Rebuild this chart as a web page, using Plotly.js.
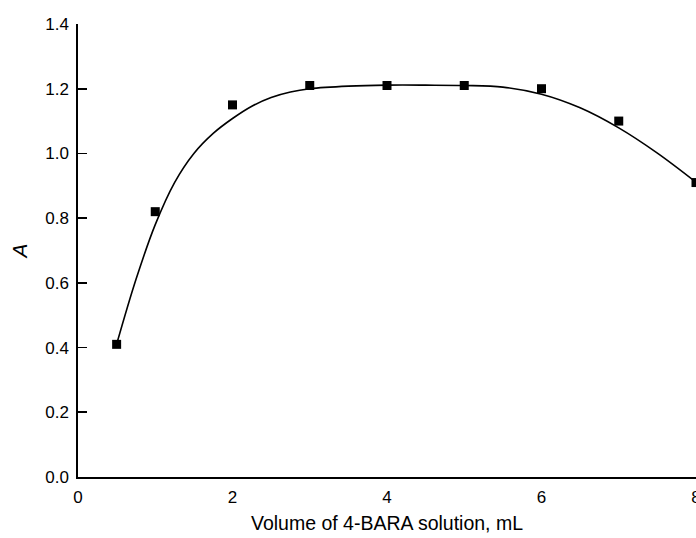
<!DOCTYPE html>
<html>
<head>
<meta charset="utf-8">
<script src="https://cdn.plot.ly/plotly-3.0.1.min.js"></script>
<style>html,body{margin:0;padding:0;background:#fff;}#chart{width:696px;height:538px;}</style>
</head>
<body>
<div id="chart"></div>
<script>
// Measured points
const volume = [0.5, 1, 2, 3, 4, 5, 6, 7, 8];
const absorbance = [0.41, 0.82, 1.15, 1.21, 1.21, 1.21, 1.20, 1.10, 0.91];
// Fitted curve
const curveX = [0.5, 0.75, 1.0, 1.25, 1.5, 1.75, 2.0, 2.25, 2.5, 2.75, 3.0, 3.5, 4.0, 4.5, 5.0, 5.5, 6.0, 6.5, 7.0, 7.5, 8.0];
const curveY = [0.41, 0.61, 0.78, 0.91, 1.0, 1.062, 1.108, 1.146, 1.173, 1.19, 1.2, 1.208, 1.211, 1.211, 1.210, 1.205, 1.183, 1.141, 1.079, 1.001, 0.911];
const xTicks = [0, 2, 4, 6, 8];
const yTicks = [0.0, 0.2, 0.4, 0.6, 0.8, 1.0, 1.2, 1.4];

const font = "Liberation Sans, Arial, sans-serif";
const data = [
  {x: curveX, y: curveY, type: 'scatter', mode: 'lines',
   line: {color: '#000', width: 1.6, shape: 'spline', smoothing: 1}, hoverinfo: 'skip', cliponaxis: false},
  {x: volume, y: absorbance, type: 'scatter', mode: 'markers',
   marker: {symbol: 'square', size: 9, color: '#000'}, cliponaxis: false}
];
const layout = {
  width: 696, height: 538,
  margin: {l: 78, r: 0, t: 24, b: 61},
  paper_bgcolor: '#fff', plot_bgcolor: '#fff',
  showlegend: false,
  font: {family: font, color: '#000', size: 17},
  xaxis: {
    range: [0, 8], tickvals: xTicks, ticktext: xTicks.map(String),
    showgrid: false, zeroline: false, showline: true, linecolor: '#000', linewidth: 1.6,
    ticks: '', tickfont: {size: 17, family: font}, ticklabelstandoff: 4,
    ticklabeloverflow: 'allow',
    title: {text: 'Volume of 4-BARA solution, mL', font: {size: 19.5, family: font}, standoff: 10}
  },
  yaxis: {
    range: [0, 1.4], tickvals: yTicks, ticktext: yTicks.map(v => v.toFixed(1)),
    showgrid: false, zeroline: false, showline: true, linecolor: '#000', linewidth: 1.6,
    ticks: 'inside', ticklen: 9, tickwidth: 1.6, tickcolor: '#000',
    tickfont: {size: 17, family: font}, ticklabelstandoff: 4,
    title: {text: '<i>A</i>', font: {size: 21, family: font}, standoff: 12}
  }
};
Plotly.newPlot('chart', data, layout, {staticPlot: true, displayModeBar: false});
</script>
</body>
</html>
